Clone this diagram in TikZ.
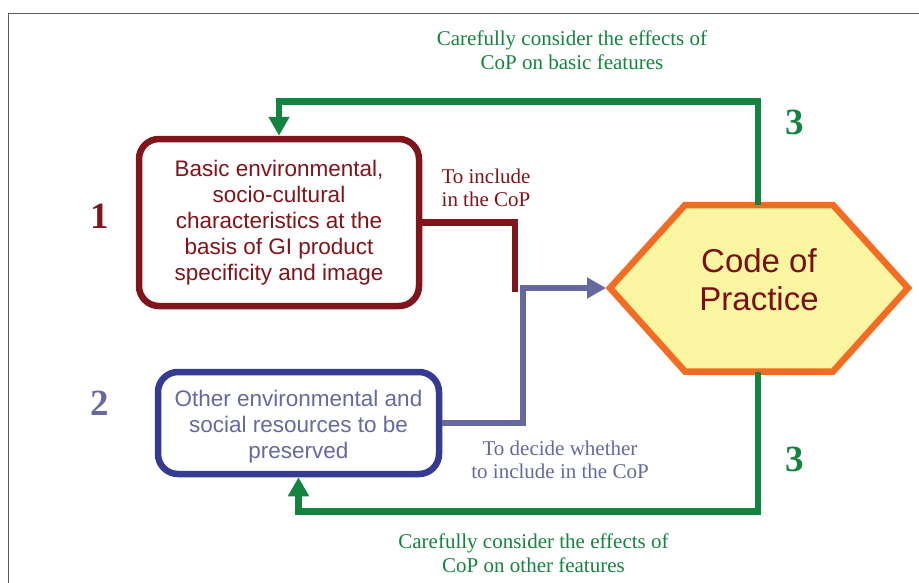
\documentclass[tikz,border=0pt]{standalone}
\usepackage{fontspec}
\setmainfont{Liberation Serif}
\newfontfamily\arial{Liberation Sans}
\usetikzlibrary{arrows.meta}
\definecolor{dred}{HTML}{80141A}
\definecolor{cred}{HTML}{7A0F14}
\definecolor{bborder}{HTML}{353A93}
\definecolor{slate}{HTML}{6668A0}
\definecolor{dgreen}{HTML}{13843F}
\definecolor{orng}{HTML}{F26C23}
\definecolor{yfill}{HTML}{F9F5A0}
\tikzset{
  box/.style={draw, rounded corners=20pt, line width=6.5pt, align=center,
    font=\arial\fontsize{22.5}{26}\selectfont, inner sep=0pt},
  boxtext/.style={align=center, font=\arial\fontsize{22.5}{26}\selectfont, inner sep=0pt},
  lbl/.style={align=center, font=\fontsize{21}{23.5}\selectfont, inner sep=0pt},
  num/.style={font=\bfseries\fontsize{37}{37}\selectfont, inner sep=0pt},
  conn/.style={line width=6.5pt, line join=miter},
  tip/.style={-{Triangle[width=20pt,length=19pt]}}
}
\begin{document}
\begin{tikzpicture}[x=1pt,y=-1pt]
\useasboundingbox (0,0) rectangle (919,582);
\draw[color=black!65, line width=1.6pt] (8.5,600) -- (8.5,13.5) -- (930,13.5);

% boxes
\node[box, draw=dred, text=dred, minimum width=280pt, minimum height=167pt] (b1) at (279,222.5)
  {Basic environmental,\\socio-cultural\\characteristics at the\\basis of GI product\\specificity and image};
\node[box, draw=bborder, minimum width=281pt, minimum height=102pt] (b2) at (298.5,423) {};
\node[boxtext, text=slate] (b2t) at (298.5,427)
  {Other environmental and\\social resources to be\\preserved};

% hexagon
\coordinate (hL) at (610,288);
\coordinate (hTL) at (685,205);
\coordinate (hTR) at (833,205);
\coordinate (hR) at (908,288);
\coordinate (hBR) at (833,371.5);
\coordinate (hBL) at (685,371.5);
\coordinate (hT) at (758,205);
\coordinate (hB) at (758,371.5);
\draw[draw=orng, fill=yfill, line width=6.5pt, line join=miter]
  (hL) -- (hTL) -- (hTR) -- (hR) -- (hBR) -- (hBL) -- cycle;
\node[align=center, text=cred, font=\arial\fontsize{33}{38}\selectfont, inner sep=0pt] (cop) at (759,279.5)
  {Code of\\Practice};

% numbers
\node[num, text=dred] (n1) at (100,216) {1};
\node[num, text=slate] (n2) at (100,403) {2};
\node[num, text=dgreen] (n3a) at (795,122) {3};
\node[num, text=dgreen] (n3b) at (795,459) {3};

% connectors
\coordinate (tc) at (758,101.5);
\coordinate (bc) at (758,511.5);
\coordinate (rj) at (515,292);
\coordinate (bj) at (523,288);
\draw[conn, draw=dgreen, tip, dgreen] (hT) -- (tc) -| (b1.north);
\draw[conn, draw=dgreen, tip, dgreen] (hB) -- (bc) -| (b2.south);
\draw[conn, draw=dred] (b1.east) -| (rj);
\draw[conn, draw=slate, tip, slate, shorten >=4pt] (b2.east) -| (bj) -- (hL);

% labels
\node[lbl, text=dgreen] (lt) at (572,50) {Carefully consider the effects of\\CoP on basic features};
\node[lbl, text=dgreen] (lb) at (533.5,553) {Carefully consider the effects of\\CoP on other features};
\node[lbl, text=dred] (lr) at (486,188) {To include\\in the CoP};
\node[lbl, text=slate] (ls) at (560,460) {To decide whether\\to include in the CoP};
\end{tikzpicture}
\end{document}
